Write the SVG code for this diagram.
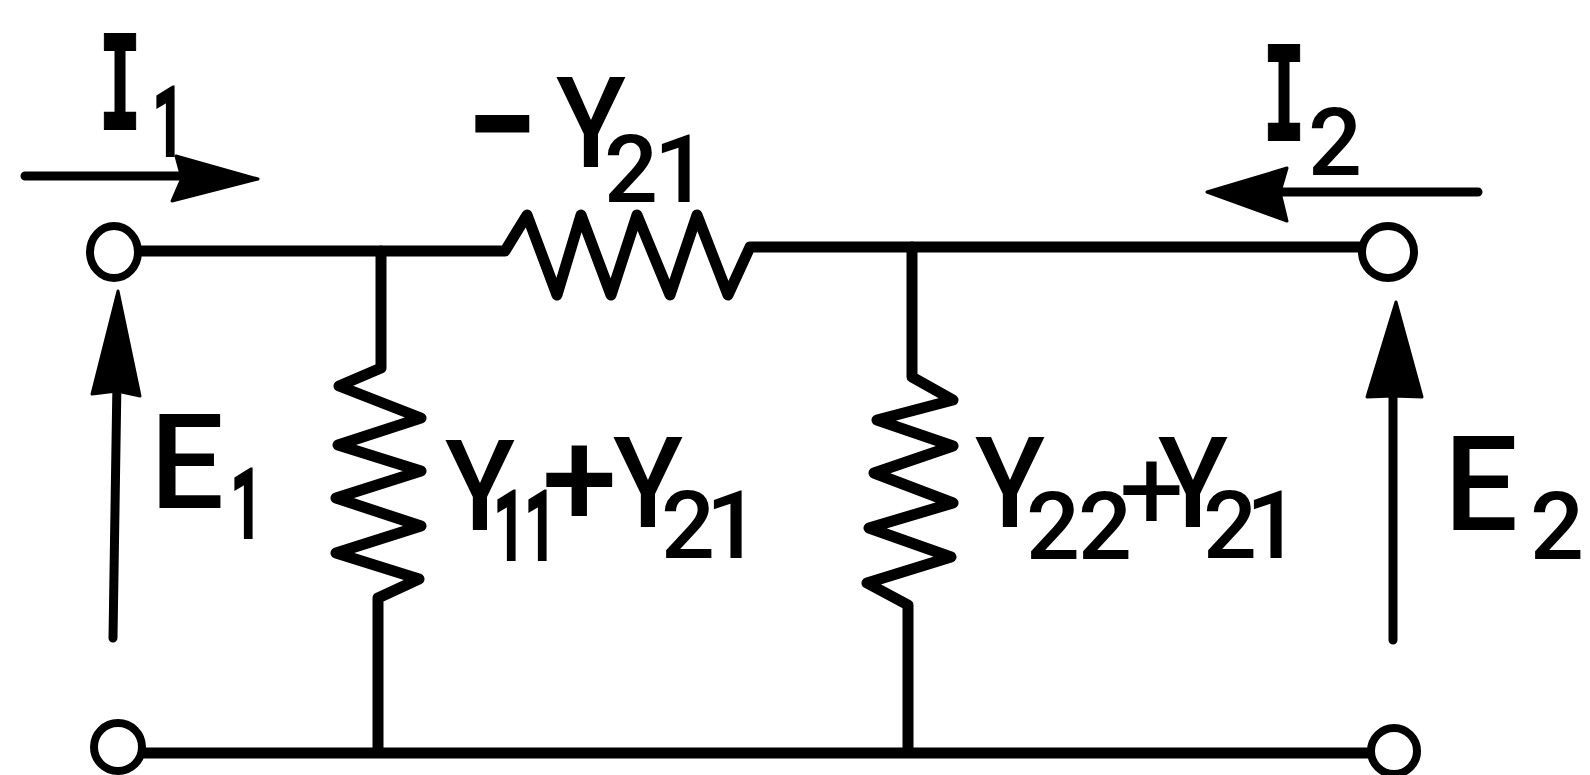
<svg xmlns="http://www.w3.org/2000/svg" width="1590" height="775" viewBox="0 0 1590 775">
<style>
.w{fill:none;stroke:#000;stroke-width:11;stroke-linejoin:round;stroke-linecap:round}
.a{fill:none;stroke:#000;stroke-width:9;stroke-linecap:round}
.h{fill:#000;stroke:#000;stroke-width:3;stroke-linejoin:round}
.t{font-family:Roboto,"Liberation Sans",sans-serif;font-weight:500;fill:#000}
.i{font-family:"Liberation Mono",monospace;font-weight:700;font-size:145px;stroke:#000;stroke-width:2}
.y{font-size:126px}
.e{font-size:131px}
.d{font-size:95px}
.n{stroke:#000;stroke-width:4}
.c{fill:#fff;stroke:#000;stroke-width:8}
</style>
<rect width="1590" height="775" fill="#fff"/>
<g id="connectors">
<path class="w" d="M142 251H505L527 215L557 295L581 215L611 295L637 215L670 295L697 215L728 295L750 247H1362"/>
<path class="w" d="M381 251V368L339 386L421 418L338 445L421 471L336 498L421 526L336 553L419 579L378 598V752"/>
<path class="w" d="M912 247V377L953 400L877 420L953 446L874 473L953 503L869 528L951 557L867 583L908 605V752"/>
<path class="w" d="M140 753H1372"/>
<path class="a" d="M25 176H190M1270 192H1478M113 638L117 380M1393 640V385"/>
<path class="h" d="M176 156L258 179L172 201L182 178Z"/>
<path class="h" d="M1207 192L1287 168L1280 192L1287 221Z"/>
<path class="h" d="M92 394L118 291L140 396L117 391Z"/>
<path class="h" d="M1367 397L1396 302L1422 397L1393 396Z"/>
</g>
<g id="term1"><ellipse class="c" cx="114" cy="252" rx="24" ry="26"/></g>
<g id="term2"><circle class="c" cx="1388" cy="252" r="26"/></g>
<g id="term3"><circle class="c" cx="118" cy="747" r="24"/></g>
<g id="term4"><circle class="c" cx="1394" cy="751" r="23"/></g>
<g id="labels">
<text class="t i" x="99" y="129" textLength="42" lengthAdjust="spacingAndGlyphs">I</text>
<text class="t d n" x="153" y="155" textLength="31" lengthAdjust="spacingAndGlyphs">1</text>
<text class="t" x="473" y="156" style="font-size:90px;stroke:#000;stroke-width:9">–</text>
<text class="t y" x="556" y="167" textLength="70" lengthAdjust="spacingAndGlyphs">Y</text>
<text class="t d" x="604" y="202" letter-spacing="-4">21</text>
<text class="t i" x="1263" y="140" textLength="42" lengthAdjust="spacingAndGlyphs">I</text>
<text class="t d" x="1308" y="175">2</text>
<text class="t e" x="150" y="508">E</text>
<text class="t d n" x="231" y="537" textLength="31" lengthAdjust="spacingAndGlyphs">1</text>
<text class="t e" x="1444" y="530">E</text>
<text class="t d" x="1530" y="559">2</text>
<text class="t y" x="445" y="530" textLength="70" lengthAdjust="spacingAndGlyphs">Y</text>
<text class="t d n" x="494" y="559" textLength="62" lengthAdjust="spacingAndGlyphs">11</text>
<text class="t" x="542" y="525" style="font-size:135px">+</text>
<text class="t y" x="613" y="527" textLength="70" lengthAdjust="spacingAndGlyphs">Y</text>
<text class="t d" x="661" y="558" letter-spacing="-9">21</text>
<text class="t y" x="975" y="527" textLength="70" lengthAdjust="spacingAndGlyphs">Y</text>
<text class="t d" x="1026" y="559" letter-spacing="-2">22</text>
<text class="t" x="1119" y="529" style="font-size:115px;font-weight:400">+</text>
<text class="t y" x="1158" y="527" textLength="70" lengthAdjust="spacingAndGlyphs">Y</text>
<text class="t d" x="1203" y="558" letter-spacing="-11">21</text>
</g>
</svg>
